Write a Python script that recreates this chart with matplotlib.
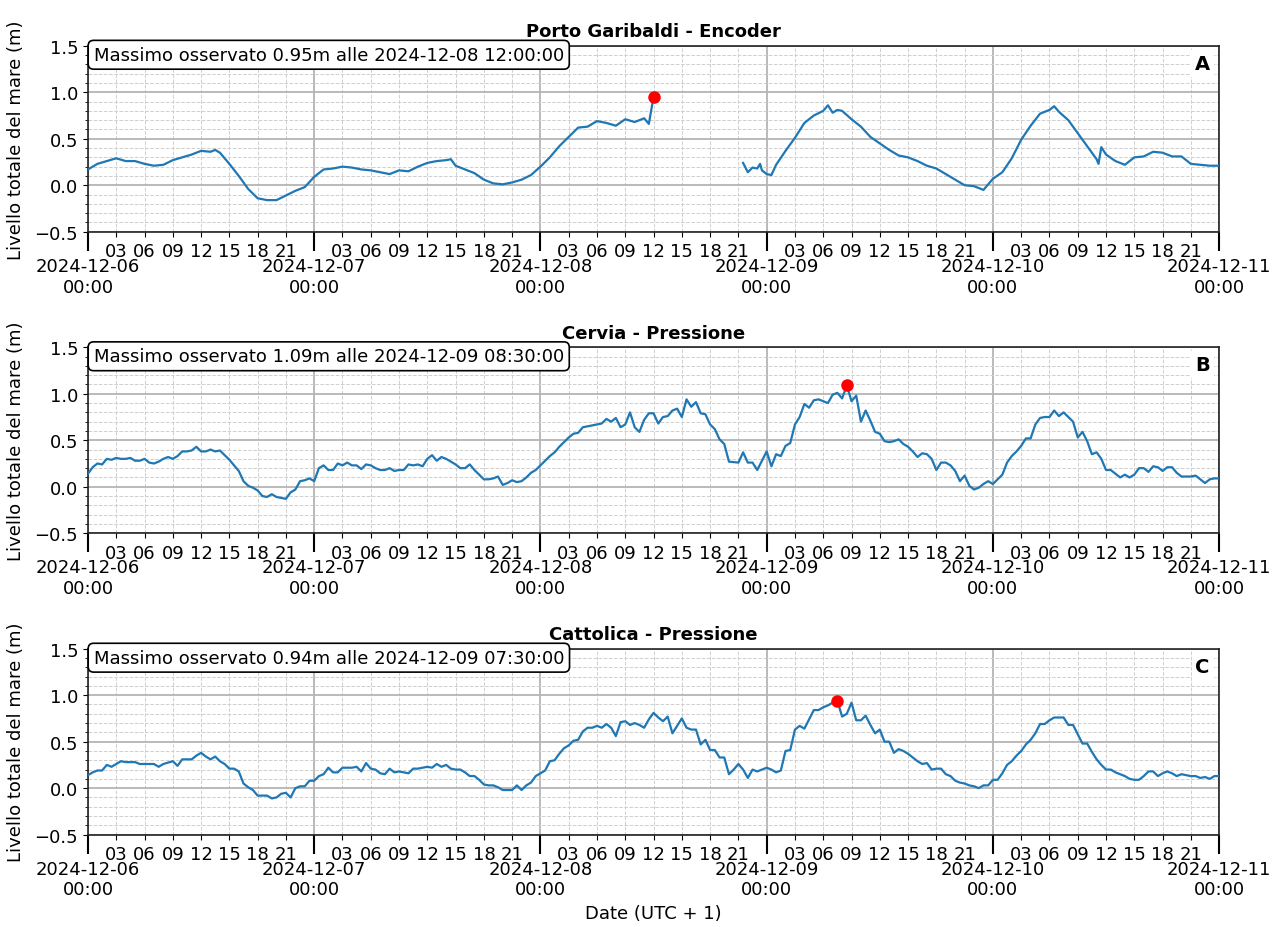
import matplotlib
matplotlib.use('Agg')
import matplotlib.pyplot as plt
import matplotlib.dates as mdates
from matplotlib.ticker import MultipleLocator
import numpy as np
import pandas as pd

start = pd.Timestamp('2024-12-06 00:00')
end = pd.Timestamp('2024-12-11 00:00')

titles = ['Porto Garibaldi - Encoder', 'Cervia - Pressione', 'Cattolica - Pressione']
letters = ['A', 'B', 'C']

# Porto Garibaldi (hours from 2024-12-06 00:00); NaN marks the data gap
porto_hours = [0, 1, 2, 3, 4, 5, 6, 7, 8, 9, 10, 11, 12, 13, 13.5, 14, 15, 16, 17, 18, 19, 20,
               21, 22, 23, 24, 25, 26, 27, 28, 29, 30, 31, 32, 33, 34, 35, 36, 37, 38, 38.5, 39,
               40, 41, 42, 43, 44, 45, 46, 47, 48, 49, 50, 51, 52, 53, 54, 55, 56, 57, 58, 59,
               59.5, 60, 64,
               69.5, 70, 70.5, 71, 71.3, 71.5, 72, 72.5, 73, 74, 75, 76, 77, 78, 78.5, 79, 79.5,
               80, 81, 82, 83, 84, 85, 86, 87, 88, 89, 90, 91, 92, 93, 94, 95, 96, 97, 98, 99,
               100, 101, 102, 102.5, 103, 104, 105, 106, 107, 107.2, 107.5, 108, 109, 110, 111,
               112, 113, 114, 115, 116, 117, 118, 119, 120]
porto_level = [0.17, 0.23, 0.26, 0.29, 0.26, 0.26, 0.23, 0.21, 0.22, 0.27, 0.30, 0.33, 0.37, 0.36,
               0.38, 0.35, 0.23, 0.10, -0.04, -0.14, -0.16, -0.16, -0.11, -0.06, -0.02, 0.09,
               0.17, 0.18, 0.20, 0.19, 0.17, 0.16, 0.14, 0.12, 0.16, 0.15, 0.20, 0.24, 0.26, 0.27,
               0.28, 0.21, 0.17, 0.13, 0.06, 0.02, 0.01, 0.03, 0.06, 0.11, 0.20, 0.30, 0.42, 0.52,
               0.62, 0.63, 0.69, 0.67, 0.64, 0.71, 0.68, 0.72, 0.66, 0.95, np.nan,
               0.24, 0.14, 0.19, 0.18, 0.23, 0.16, 0.12, 0.11, 0.22, 0.37, 0.51, 0.67, 0.75, 0.80,
               0.86, 0.78, 0.81, 0.80, 0.71, 0.63, 0.52, 0.45, 0.38, 0.32, 0.30, 0.26, 0.21, 0.18,
               0.12, 0.06, 0.00, -0.01, -0.05, 0.07, 0.14, 0.29, 0.49, 0.64, 0.77, 0.81, 0.85,
               0.79, 0.70, 0.56, 0.42, 0.28, 0.23, 0.41, 0.33, 0.26, 0.22, 0.30, 0.31, 0.36, 0.35,
               0.31, 0.31, 0.23, 0.22, 0.21, 0.21]

# Cervia
cervia_hours = [0, 0.5, 1, 1.5, 2, 2.5, 3, 3.5, 4, 4.5, 5, 5.5, 6, 6.5, 7, 7.5, 8, 8.5, 9, 9.5,
                10, 10.5, 11, 11.5, 12, 12.5, 13, 13.5, 14, 14.5, 15, 15.5, 16, 16.5, 17, 17.5,
                18, 18.5, 19, 19.5, 20, 20.5, 21, 21.5, 22, 22.5, 23, 23.5, 24, 24.5, 25, 25.5,
                26, 26.5, 27, 27.5, 28, 28.5, 29, 29.5, 30, 30.5, 31, 31.5, 32, 32.5, 33, 33.5,
                34, 34.5, 35, 35.5, 36, 36.5, 37, 37.5, 38, 38.5, 39, 39.5, 40, 40.5, 41, 41.5,
                42, 42.5, 43, 43.5, 44, 44.5, 45, 45.5, 46, 46.5, 47, 47.5, 48, 48.5, 49, 49.5,
                50, 50.5, 51, 51.5, 52, 52.5, 53, 53.5, 54, 54.5, 55, 55.5, 56, 56.5, 57, 57.5,
                58, 58.5, 59, 59.5, 60, 60.5, 61, 61.5, 62, 62.5, 63, 63.5, 64, 64.5, 65, 65.5,
                66, 66.5, 67, 67.5, 68, 69, 69.5, 70, 70.5, 71, 71.5, 72, 72.5, 73, 73.5, 74,
                74.5, 75, 75.5, 76, 76.5, 77, 77.5, 78, 78.5, 79, 79.5, 80, 80.5, 81, 81.5, 82,
                82.5, 83, 83.5, 84, 84.5, 85, 85.5, 86, 86.5, 87, 87.5, 88, 88.5, 89, 89.5, 90,
                90.5, 91, 91.5, 92, 92.5, 93, 93.5, 94, 94.5, 95, 95.5, 96, 96.5, 97, 97.5, 98,
                98.5, 99, 99.5, 100, 100.5, 101, 101.5, 102, 102.5, 103, 103.5, 104, 104.5, 105,
                105.5, 106, 106.5, 107, 107.5, 108, 108.5, 109, 109.5, 110, 110.5, 111, 111.5,
                112, 112.5, 113, 113.5, 114, 114.5, 115, 115.5, 116, 116.5, 117, 117.5, 118,
                118.5, 119, 119.5, 120]
cervia_level = [0.14, 0.21, 0.25, 0.24, 0.30, 0.29, 0.31, 0.30, 0.30, 0.31, 0.28, 0.28, 0.30, 0.26,
                0.25, 0.27, 0.30, 0.32, 0.30, 0.33, 0.38, 0.38, 0.39, 0.43, 0.38, 0.38, 0.40,
                0.38, 0.39, 0.34, 0.29, 0.23, 0.17, 0.06, 0.01, -0.01, -0.04, -0.10, -0.11, -0.08,
                -0.11, -0.12, -0.13, -0.06, -0.03, 0.06, 0.07, 0.09, 0.06, 0.20, 0.23, 0.18, 0.18,
                0.25, 0.23, 0.26, 0.23, 0.23, 0.19, 0.24, 0.23, 0.20, 0.18, 0.18, 0.20, 0.17,
                0.18, 0.18, 0.24, 0.23, 0.24, 0.22, 0.30, 0.34, 0.28, 0.32, 0.30, 0.27, 0.24,
                0.20, 0.20, 0.24, 0.18, 0.13, 0.08, 0.08, 0.09, 0.11, 0.02, 0.04, 0.07, 0.05,
                0.06, 0.10, 0.15, 0.18, 0.23, 0.28, 0.33, 0.37, 0.43, 0.48, 0.53, 0.57, 0.58,
                0.64, 0.65, 0.66, 0.67, 0.68, 0.73, 0.70, 0.74, 0.64, 0.67, 0.80, 0.64, 0.59,
                0.72, 0.79, 0.79, 0.68, 0.75, 0.76, 0.82, 0.84, 0.75, 0.94, 0.86, 0.91, 0.79,
                0.78, 0.67, 0.62, 0.51, 0.46, 0.27, 0.26, 0.37, 0.26, 0.26, 0.18, 0.28, 0.38,
                0.22, 0.35, 0.33, 0.44, 0.47, 0.67, 0.75, 0.89, 0.85, 0.93, 0.94, 0.92, 0.90,
                0.99, 1.01, 0.95, 1.09, 0.92, 0.98, 0.70, 0.82, 0.71, 0.59, 0.57, 0.49, 0.48,
                0.49, 0.51, 0.46, 0.43, 0.38, 0.32, 0.36, 0.35, 0.30, 0.18, 0.26, 0.26, 0.23,
                0.17, 0.06, 0.12, 0.01, -0.03, -0.01, 0.03, 0.06, 0.03, 0.08, 0.13, 0.26, 0.33,
                0.38, 0.44, 0.52, 0.52, 0.67, 0.74, 0.75, 0.75, 0.82, 0.76, 0.80, 0.75, 0.70,
                0.53, 0.59, 0.49, 0.35, 0.37, 0.30, 0.18, 0.18, 0.14, 0.10, 0.13, 0.10, 0.13,
                0.20, 0.20, 0.16, 0.22, 0.21, 0.17, 0.21, 0.21, 0.15, 0.11, 0.11, 0.11, 0.12,
                0.08, 0.04, 0.08, 0.09, 0.09]

# Cattolica
cattolica_hours = [0, 0.5, 1, 1.5, 2, 2.5, 3, 3.5, 4, 5, 5.5, 6, 7, 7.5, 8, 9, 9.5, 10, 11, 11.5,
                   12, 12.5, 13, 13.5, 14, 14.5, 15, 15.5, 16, 16.5, 17, 17.5, 18, 18.5, 19, 19.5,
                   20, 20.5, 21, 21.5, 22, 22.5, 23, 23.5, 24, 24.5, 25, 25.5, 26, 26.5, 27, 28,
                   28.5, 29, 29.5, 30, 30.5, 31, 31.5, 32, 32.5, 33, 34, 34.5, 35, 36, 36.5, 37,
                   37.5, 38, 38.5, 39, 39.5, 40, 40.5, 41, 41.5, 42, 42.5, 43, 43.5, 44, 45, 45.5,
                   46, 46.5, 47, 47.5, 48, 48.5, 49, 49.5, 50, 50.5, 51, 51.5, 52, 52.5, 53, 53.5,
                   54, 54.5, 55, 55.5, 56, 56.5, 57, 57.5, 58, 58.5, 59, 59.5, 60, 60.5, 61, 61.5,
                   62, 62.5, 63, 63.5, 64, 64.5, 65, 65.5, 66, 66.5, 67, 67.5, 68, 68.5, 69, 69.5,
                   70, 70.5, 71, 71.5, 72, 72.5, 73, 73.5, 74, 74.5, 75, 75.5, 76, 76.5, 77, 77.5,
                   78, 78.5, 79, 79.5, 80, 80.5, 81, 81.5, 82, 82.5, 83, 83.5, 84, 84.5, 85, 85.5,
                   86, 86.5, 87, 87.5, 88, 88.5, 89, 89.5, 90, 90.5, 91, 91.5, 92, 92.5, 93, 93.5,
                   94, 94.5, 95, 95.5, 96, 96.5, 97, 97.5, 98, 98.5, 99, 99.5, 100, 100.5, 101,
                   101.5, 102, 102.5, 103, 103.5, 104, 104.5, 105, 105.5, 106, 106.5, 107, 107.5,
                   108, 108.5, 109, 109.5, 110, 110.5, 111, 111.5, 112, 112.5, 113, 113.5, 114,
                   114.5, 115, 115.5, 116, 116.5, 117, 117.5, 118, 118.5, 119, 119.5, 120]
cattolica_level = [0.14, 0.17, 0.19, 0.19, 0.25, 0.23, 0.26, 0.29, 0.28, 0.28, 0.26, 0.26, 0.26,
                   0.23, 0.26, 0.29, 0.24, 0.31, 0.31, 0.35, 0.38, 0.34, 0.31, 0.34, 0.29, 0.26,
                   0.21, 0.21, 0.18, 0.05, 0.01, -0.02, -0.08, -0.08, -0.08, -0.11, -0.10, -0.06,
                   -0.05, -0.10, 0.00, 0.02, 0.02, 0.08, 0.08, 0.13, 0.15, 0.22, 0.17, 0.17, 0.22,
                   0.22, 0.23, 0.18, 0.27, 0.21, 0.20, 0.16, 0.15, 0.21, 0.17, 0.18, 0.16, 0.21,
                   0.21, 0.23, 0.22, 0.26, 0.23, 0.25, 0.21, 0.20, 0.20, 0.17, 0.13, 0.13, 0.09,
                   0.04, 0.03, 0.03, 0.01, -0.02, -0.02, 0.03, -0.02, 0.03, 0.06, 0.13, 0.16,
                   0.19, 0.29, 0.30, 0.37, 0.43, 0.46, 0.51, 0.52, 0.61, 0.65, 0.65, 0.67, 0.65,
                   0.69, 0.65, 0.56, 0.71, 0.72, 0.68, 0.70, 0.68, 0.65, 0.74, 0.81, 0.76, 0.72,
                   0.77, 0.59, 0.67, 0.75, 0.65, 0.63, 0.63, 0.47, 0.52, 0.41, 0.41, 0.33, 0.33,
                   0.15, 0.20, 0.26, 0.20, 0.11, 0.20, 0.18, 0.20, 0.22, 0.20, 0.17, 0.19, 0.40,
                   0.41, 0.63, 0.67, 0.64, 0.74, 0.84, 0.84, 0.87, 0.89, 0.92, 0.94, 0.77, 0.80,
                   0.92, 0.73, 0.73, 0.78, 0.68, 0.59, 0.63, 0.50, 0.50, 0.38, 0.42, 0.40, 0.37,
                   0.33, 0.29, 0.26, 0.27, 0.20, 0.21, 0.21, 0.15, 0.13, 0.08, 0.06, 0.05, 0.03,
                   0.02, 0.00, 0.03, 0.03, 0.09, 0.09, 0.16, 0.25, 0.29, 0.35, 0.40, 0.47, 0.52,
                   0.59, 0.69, 0.69, 0.73, 0.76, 0.76, 0.76, 0.68, 0.68, 0.58, 0.48, 0.48, 0.39,
                   0.31, 0.25, 0.20, 0.20, 0.17, 0.15, 0.13, 0.10, 0.09, 0.09, 0.13, 0.18, 0.18,
                   0.13, 0.16, 0.18, 0.16, 0.13, 0.15, 0.14, 0.13, 0.13, 0.11, 0.12, 0.10, 0.13,
                   0.13]

series = [(porto_hours, porto_level), (cervia_hours, cervia_level), (cattolica_hours, cattolica_level)]

plt.rcParams['font.family'] = ['DejaVu Sans']

fig = plt.figure(figsize=(12.84, 9.28), dpi=100)
bottoms = [0.7492, 0.4243, 0.0995]

for i, (hours, levels) in enumerate(series):
    ax = fig.add_axes([0.0685, bottoms[i], 0.881, 0.2004])
    times = start + pd.to_timedelta(np.array(hours, dtype=float), unit='h')
    lv = np.array(levels, dtype=float)
    ax.plot(times, lv, color='#1f77b4', lw=1.6, zorder=3)
    imax = int(np.nanargmax(lv))
    ax.plot(times[imax], lv[imax], 'o', color='red', ms=8, zorder=5)

    ax.set_xlim(start, end)
    ax.set_ylim(-0.5, 1.5)
    ax.xaxis.set_major_locator(mdates.DayLocator())
    ax.xaxis.set_major_formatter(mdates.DateFormatter('%Y-%m-%d\n%H:%M'))
    ax.xaxis.set_minor_locator(mdates.HourLocator(byhour=range(3, 24, 3)))
    ax.xaxis.set_minor_formatter(mdates.DateFormatter('%H'))
    ax.yaxis.set_major_locator(MultipleLocator(0.5))
    ax.yaxis.set_minor_locator(MultipleLocator(0.1))

    ax.grid(which='major', color='#b4b4b4', lw=1.3, ls='-', zorder=0)
    ax.grid(which='minor', color='#cfcfcf', lw=0.7, ls='--', zorder=0)
    ax.set_axisbelow(True)

    ax.tick_params(axis='x', which='major', length=14, width=1.5, labelsize=13, pad=4)
    ax.tick_params(axis='x', which='minor', length=3.5, width=0.8, labelsize=13, pad=4)
    ax.tick_params(axis='y', which='major', length=3.5, labelsize=13)
    ax.tick_params(axis='y', which='minor', length=2, labelsize=13)
    for sp in ax.spines.values():
        sp.set_linewidth(1.2)
        sp.set_color('#222222')

    ax.set_title(titles[i], fontsize=13, fontweight='bold', pad=7)
    ax.set_ylabel('Livello totale del mare (m)', fontsize=13)
    ax.yaxis.set_label_coords(-0.056, 0.5)

    tmax = pd.Timestamp(times[imax])
    ax.text(0.005, 1.0,
            f"Massimo osservato {lv[imax]:.2f}m alle {tmax:%Y-%m-%d %H:%M:%S}",
            transform=ax.transAxes, ha='left', va='top', fontsize=13, zorder=6,
            bbox=dict(boxstyle='round,pad=0.3', fc='white', ec='black', lw=1.2))
    ax.text(0.9917, 0.906, letters[i], transform=ax.transAxes, ha='right', va='center',
            fontsize=14, fontweight='bold', zorder=6,
            bbox=dict(boxstyle='square,pad=0.2', fc='white', ec='none'))

    if i == 2:
        ax.set_xlabel('Date (UTC + 1)', fontsize=13)

fig.savefig('out.png', dpi=100)
